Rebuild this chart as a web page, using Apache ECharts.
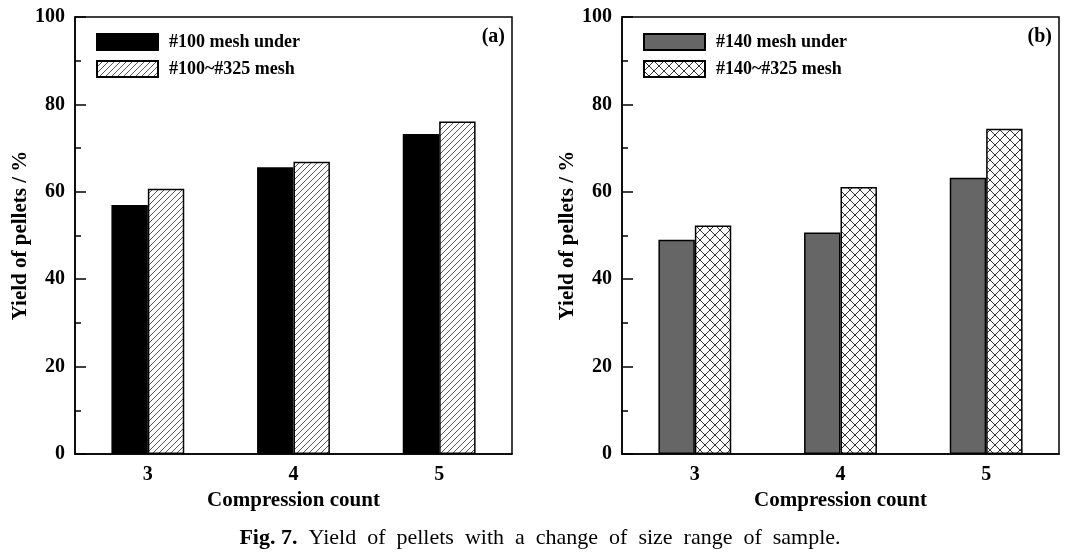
<!DOCTYPE html>
<html>
<head>
<meta charset="utf-8">
<script src="https://cdn.jsdelivr.net/npm/echarts@6/dist/echarts.min.js"></script>
<style>html,body{margin:0;padding:0;background:#fff}#c{width:1080px;height:557px}</style>
</head>
<body>
<div id="c"></div>
<script>
var categories = ['3', '4', '5'];
var seriesA1Name = '#100 mesh under';
var seriesA2Name = '#100~#325 mesh';
var seriesB1Name = '#140 mesh under';
var seriesB2Name = '#140~#325 mesh';
var seriesA1 = [57.0, 65.6, 73.2];
var seriesA2 = [60.7, 66.9, 76.1];
var seriesB1 = [49.0, 50.7, 63.2];
var seriesB2 = [52.3, 61.1, 74.4];
var yTicks = [0, 20, 40, 60, 80, 100];

var FONT = "'Liberation Serif', 'Times New Roman', serif";

function hatchPattern() {
  var c = document.createElement('canvas');
  c.width = 6; c.height = 6;
  var g = c.getContext('2d');
  g.fillStyle = '#fff'; g.fillRect(0, 0, 6, 6);
  g.strokeStyle = '#444'; g.lineWidth = 0.9;
  g.beginPath();
  g.moveTo(-1, 7); g.lineTo(7, -1);
  g.moveTo(-1, 1); g.lineTo(1, -1);
  g.moveTo(5, 7); g.lineTo(7, 5);
  g.stroke();
  return c;
}
function crossPattern() {
  var c = document.createElement('canvas');
  c.width = 10; c.height = 10;
  var g = c.getContext('2d');
  g.fillStyle = '#fff'; g.fillRect(0, 0, 10, 10);
  g.strokeStyle = '#333'; g.lineWidth = 1;
  g.beginPath();
  g.moveTo(-1, 11); g.lineTo(11, -1);
  g.moveTo(-1, -1); g.lineTo(11, 11);
  g.stroke();
  return c;
}

var chart = echarts.init(document.getElementById('c'), null, {renderer: 'canvas'});

function xAxisDef(gi) {
  return {
    type: 'category', gridIndex: gi, data: categories,
    boundaryGap: true,
    axisLine: {lineStyle: {color: '#000', width: 1.5}},
    axisTick: {show: false},
    axisLabel: {color: '#000', fontFamily: FONT, fontWeight: 'bold', fontSize: 20, margin: 11},
    name: 'Compression count', nameLocation: 'middle', nameGap: 31,
    nameTextStyle: {color: '#000', fontFamily: FONT, fontWeight: 'bold', fontSize: 21}
  };
}
function yAxisDef(gi) {
  return {
    type: 'value', gridIndex: gi, min: yTicks[0], max: yTicks[yTicks.length - 1], interval: 20,
    axisLine: {show: true, lineStyle: {color: '#000', width: 1.5}},
    axisTick: {show: true, inside: true, length: 11, lineStyle: {color: '#000', width: 1.5}},
    minorTick: {show: true, splitNumber: 2, length: 6, lineStyle: {color: '#000', width: 1.5}},
    splitLine: {show: false},
    axisLabel: {color: '#000', fontFamily: FONT, fontWeight: 'bold', fontSize: 20, margin: 10},
    name: 'Yield of pellets / %', nameLocation: 'middle', nameGap: 41,
    nameTextStyle: {color: '#000', fontFamily: FONT, fontWeight: 'bold', fontSize: 21}
  };
}
function legendDef(left, names) {
  return {
    orient: 'vertical', left: left, top: 33, padding: 0,
    itemWidth: 61, itemHeight: 16, itemGap: 9,
    icon: 'rect',
    data: names,
    textStyle: {color: '#000', fontFamily: FONT, fontWeight: 'bold', fontSize: 18, lineHeight: 16, padding: [0, 0, 0, 6]},
    selectedMode: false
  };
}
function barDef(name, data, gi, color) {
  return {
    type: 'bar', name: name, xAxisIndex: gi, yAxisIndex: gi, data: data,
    barWidth: '25%', barGap: '0%',
    itemStyle: {color: color, borderColor: '#000', borderWidth: 1.5},
    emphasis: {disabled: true}, animation: false
  };
}

var option = {
  backgroundColor: '#fff',
  animation: false,
  grid: [
    {left: 75, right: 568, top: 17, bottom: 103, show: true, borderColor: '#000', borderWidth: 1.5},
    {left: 622, right: 21, top: 17, bottom: 103, show: true, borderColor: '#000', borderWidth: 1.5}
  ],
  xAxis: [xAxisDef(0), xAxisDef(1)],
  yAxis: [yAxisDef(0), yAxisDef(1)],
  legend: [legendDef(96, [seriesA1Name, seriesA2Name]), legendDef(643, [seriesB1Name, seriesB2Name])],
  series: [
    barDef(seriesA1Name, seriesA1, 0, '#000'),
    barDef(seriesA2Name, seriesA2, 0, {image: hatchPattern(), repeat: 'repeat'}),
    barDef(seriesB1Name, seriesB1, 1, '#666666'),
    barDef(seriesB2Name, seriesB2, 1, {image: crossPattern(), repeat: 'repeat'})
  ],
  graphic: [
    {type: 'text', right: 1080 - 505, top: 27, style: {text: '(a)', font: 'bold 20px ' + FONT, fill: '#000'}},
    {type: 'text', right: 1080 - 1052, top: 27, style: {text: '(b)', font: 'bold 20px ' + FONT, fill: '#000'}},
    {type: 'text', left: 'center', top: 527, style: {
      text: '{b|Fig. 7.}  Yield  of  pellets  with  a  change  of  size  range  of  sample.',
      rich: {b: {fontFamily: FONT, fontWeight: 'bold', fontSize: 22, fill: '#000'}},
      fontFamily: FONT, fontSize: 22, fill: '#000'
    }}
  ]
};
chart.setOption(option);
</script>
</body>
</html>
